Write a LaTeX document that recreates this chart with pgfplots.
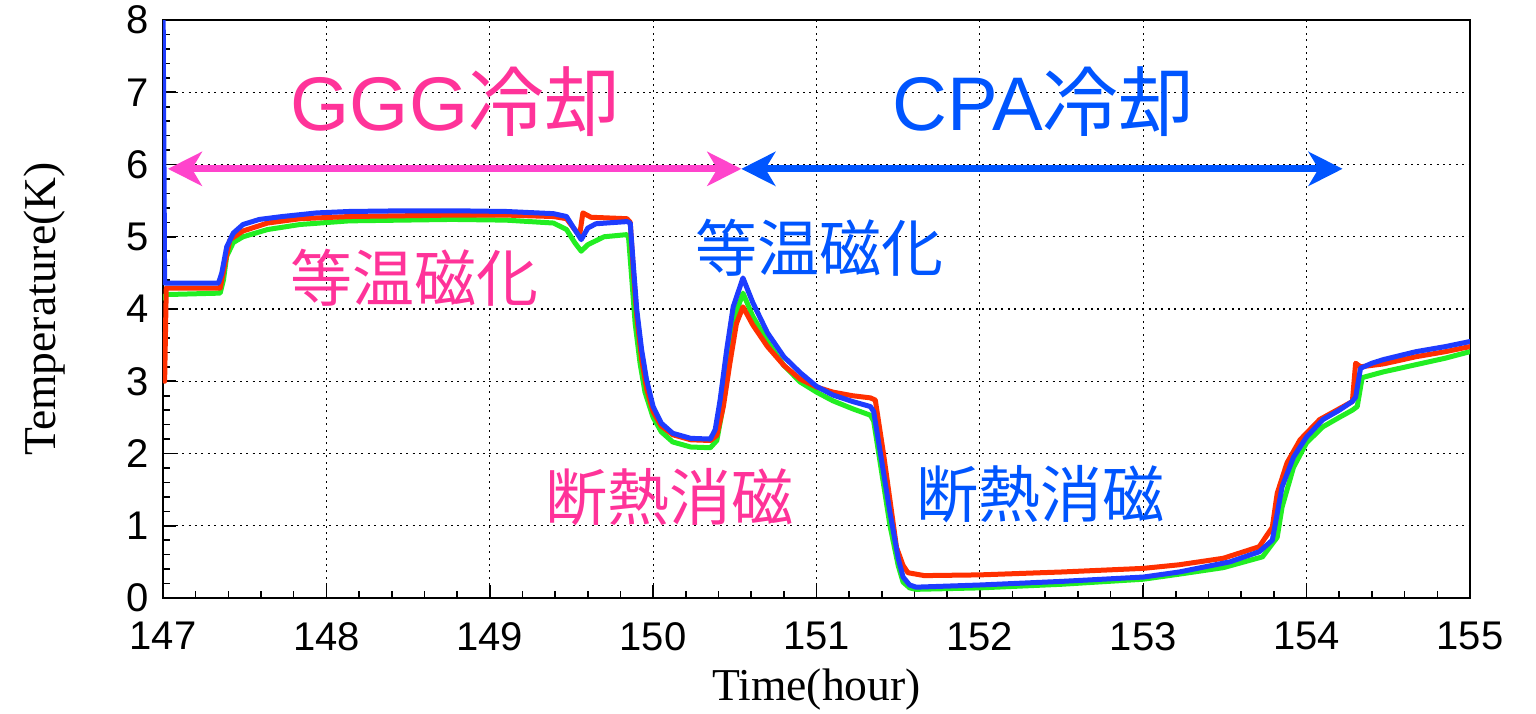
\documentclass[border=0pt]{standalone}
\usepackage{fontspec}
\setmainfont{Liberation Serif}
\newfontfamily\helv{Liberation Sans}
\newfontfamily\cjk{Noto Sans CJK JP}
\usepackage{pgfplots}
\pgfplotsset{compat=1.18}
\usetikzlibrary{arrows.meta}
\definecolor{cred}{HTML}{FF3000}
\definecolor{cgreen}{HTML}{22EE22}
\definecolor{cblue}{HTML}{1E3CFF}
\definecolor{pinkT}{HTML}{FF3399}
\definecolor{pinkA}{HTML}{FF44CC}
\definecolor{blueT}{HTML}{0055FF}
\begin{document}
\begin{tikzpicture}
\begin{axis}[
  at={(0,0)}, anchor=south west,
  scale only axis, width=653.5pt, height=289pt,
  xmin=147, xmax=155, ymin=0, ymax=8,
  xtick={147,148,...,155}, ytick={0,1,...,8},
  minor x tick num=4, minor y tick num=4,
  tick pos=left, tick align=inside,
  major tick length=6.5pt, minor tick length=3.5pt,
  every tick/.style={black, line width=0.8pt},
  grid=major,
  major grid style={black, dash pattern=on 1pt off 2.2pt, line width=0.6pt},
  axis line style={line width=1pt},
  /pgf/number format/assume math mode=true,
  ticklabel style={font=\helv\fontsize{20}{24}\selectfont, inner sep=1pt},
  xticklabel style={yshift=-11pt},
  yticklabel style={xshift=-5.7pt},
  xlabel={Time(hour)}, ylabel={Temperature(K)},
  label style={font=\fontsize{22.8}{26}\selectfont},
  xlabel style={at={(axis description cs:0.5,-0.159)}, anchor=center},
  ylabel style={at={(axis description cs:-0.0903,0.5)}, anchor=center},
  every axis plot/.append style={line width=2.5pt, line join=round, line cap=round, no markers},
]
% green
\addplot[cgreen] coordinates {
(147.00,4.15)(147.02,4.20)(147.35,4.22)(147.37,4.40)(147.39,4.73)(147.43,4.92)(147.49,5.00)
(147.64,5.10)(147.84,5.17)(148.14,5.22)(148.77,5.24)(149.10,5.23)(149.39,5.19)(149.47,5.10)
(149.52,4.92)(149.56,4.80)(149.60,4.89)(149.70,5.00)(149.84,5.03)(149.85,4.98)(149.87,4.40)
(149.89,3.80)(149.92,3.25)(149.95,2.85)(150.00,2.50)(150.05,2.30)(150.12,2.16)(150.23,2.09)
(150.35,2.08)(150.39,2.18)(150.42,2.55)(150.46,3.20)(150.50,3.90)(150.55,4.22)(150.61,3.90)
(150.70,3.55)(150.80,3.22)(150.90,2.99)(151.00,2.85)(151.10,2.73)(151.22,2.62)(151.33,2.53)
(151.35,2.45)(151.45,1.00)(151.50,0.45)(151.53,0.22)(151.57,0.14)(151.61,0.12)(152.00,0.14)
(152.50,0.19)(153.00,0.26)(153.22,0.33)(153.49,0.42)(153.73,0.57)(153.82,0.84)(153.85,1.26)
(153.92,1.81)(154.00,2.15)(154.10,2.37)(154.20,2.50)(154.28,2.60)(154.31,2.65)(154.34,3.05)
(154.47,3.13)(154.67,3.23)(154.85,3.32)(155.00,3.41)
};
% red
\addplot[cred] coordinates {
(147.01,3.00)(147.02,4.29)(147.35,4.29)(147.38,4.64)(147.41,4.96)(147.49,5.08)(147.64,5.19)
(147.84,5.25)(148.14,5.28)(148.77,5.30)(149.10,5.30)(149.39,5.28)(149.47,5.25)(149.52,5.10)
(149.55,5.02)(149.57,5.33)(149.62,5.27)(149.84,5.25)(149.86,5.20)(149.88,4.50)(149.90,3.90)
(149.93,3.30)(149.96,2.90)(150.00,2.58)(150.05,2.38)(150.12,2.26)(150.23,2.19)(150.35,2.18)
(150.39,2.25)(150.43,2.65)(150.47,3.25)(150.51,3.80)(150.55,4.03)(150.61,3.78)(150.70,3.48)
(150.80,3.22)(150.90,3.03)(151.00,2.92)(151.10,2.85)(151.22,2.80)(151.33,2.77)(151.36,2.74)
(151.41,2.00)(151.49,0.70)(151.53,0.45)(151.56,0.35)(151.66,0.31)(152.00,0.32)(152.50,0.36)
(153.00,0.41)(153.22,0.46)(153.49,0.55)(153.71,0.71)(153.79,0.98)(153.82,1.45)(153.88,1.87)
(153.96,2.19)(154.08,2.47)(154.20,2.62)(154.28,2.72)(154.30,3.25)(154.33,3.20)(154.47,3.24)
(154.67,3.34)(154.85,3.41)(155.00,3.48)
};
% blue
\addplot[cblue] coordinates {
(147.00,8.50)(147.01,4.36)(147.34,4.36)(147.36,4.50)(147.39,4.86)(147.43,5.05)(147.49,5.17)
(147.59,5.24)(147.73,5.28)(147.94,5.33)(148.14,5.35)(148.50,5.36)(148.77,5.36)(149.10,5.35)
(149.39,5.32)(149.47,5.28)(149.52,5.10)(149.56,4.96)(149.60,5.12)(149.65,5.18)(149.84,5.21)
(149.86,5.19)(149.88,4.58)(149.90,3.99)(149.93,3.43)(149.96,3.02)(150.00,2.65)(150.05,2.42)
(150.12,2.28)(150.23,2.21)(150.35,2.20)(150.38,2.33)(150.41,2.74)(150.45,3.43)(150.49,4.03)
(150.55,4.43)(150.61,4.09)(150.70,3.67)(150.80,3.34)(150.90,3.12)(151.00,2.93)(151.10,2.81)
(151.22,2.72)(151.33,2.65)(151.35,2.58)(151.45,1.18)(151.50,0.55)(151.53,0.29)(151.57,0.18)
(151.61,0.15)(152.00,0.18)(152.50,0.23)(153.00,0.29)(153.22,0.36)(153.53,0.50)(153.71,0.64)
(153.79,0.80)(153.82,1.17)(153.85,1.54)(153.92,1.95)(154.00,2.23)(154.10,2.47)(154.20,2.60)
(154.28,2.72)(154.30,2.78)(154.33,3.18)(154.40,3.25)(154.47,3.30)(154.67,3.41)(154.85,3.48)
(155.00,3.55)
};
% arrows
\draw[pinkA, line width=3.6pt, {Stealth[length=17pt,width=17pt,inset=5pt]}-{Stealth[length=17pt,width=17pt,inset=5pt]}]
  (axis cs:147.03,5.94) -- (axis cs:150.54,5.94);
\draw[blueT, line width=3.6pt, {Stealth[length=17pt,width=17pt,inset=5pt]}-{Stealth[length=17pt,width=17pt,inset=5pt]}]
  (axis cs:150.54,5.94) -- (axis cs:154.22,5.94);
% annotations
\node[text=pinkT, font=\fontsize{38}{40}\selectfont, inner sep=0pt] at (axis cs:148.79,6.87) {\helv GGG\cjk 冷却};
\node[text=blueT, font=\fontsize{38}{40}\selectfont, inner sep=0pt] at (axis cs:152.39,6.87) {\helv CPA\cjk 冷却};
\node[text=pinkT, font=\cjk\fontsize{31}{33}\selectfont, inner sep=0pt] at (axis cs:148.54,4.43) {等温磁化};
\node[text=blueT, font=\cjk\fontsize{31}{33}\selectfont, inner sep=0pt] at (axis cs:151.02,4.85) {等温磁化};
\node[text=pinkT, font=\cjk\fontsize{31}{33}\selectfont, inner sep=0pt] at (axis cs:150.10,1.39) {断熱消磁};
\node[text=blueT, font=\cjk\fontsize{31}{33}\selectfont, inner sep=0pt] at (axis cs:152.37,1.44) {断熱消磁};
\end{axis}
\pgfresetboundingbox
\useasboundingbox (-81.5pt,-57.5pt) rectangle (686.5pt,299pt);
\end{tikzpicture}
\end{document}
